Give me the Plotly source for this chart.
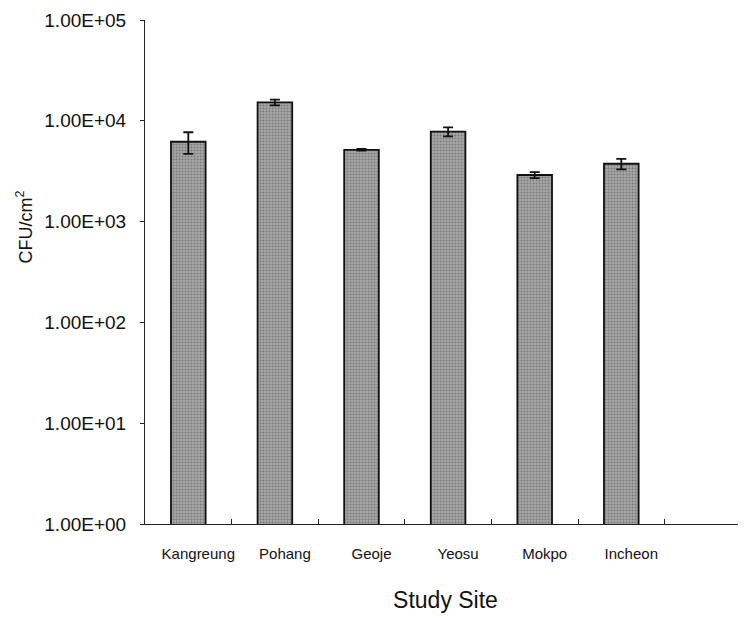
import plotly.graph_objects as go

sites = ["Kangreung", "Pohang", "Geoje", "Yeosu", "Mokpo", "Incheon"]
cfu = [6200, 15200, 5150, 7800, 2900, 3750]
cfu_err = [1500, 1000, 100, 800, 200, 450]
ytick_vals = [1, 10, 100, 1000, 10000, 100000]
ytick_text = ["1.00E+00", "1.00E+01", "1.00E+02", "1.00E+03", "1.00E+04", "1.00E+05"]

FONT = "Liberation Sans Narrow, Arial Narrow, Liberation Sans, Arial, sans-serif"

fig = go.Figure(go.Bar(
    x=sites, y=cfu, width=0.40,
    marker=dict(color="#9c9c9c", line=dict(color="#111111", width=1.8),
                pattern=dict(shape=".", fgcolor="#4a4a4a", bgcolor="#a8a8a8", size=3, solidity=0.35)),
    error_y=dict(type="data", array=cfu_err, visible=True, color="#111111", thickness=1.8, width=5),
))

fig.update_layout(
    width=738, height=610,
    margin=dict(l=137, r=0, t=12, b=94),
    paper_bgcolor="white", plot_bgcolor="white",
    font=dict(family=FONT, color="#111111", size=14),
    showlegend=False,
    annotations=[dict(
        text="CFU/cm<sup>2</sup>", textangle=-90, showarrow=False,
        xref="paper", yref="paper", x=-0.2, y=0.59,
        xanchor="center", yanchor="middle", font=dict(size=18),
    )],
)
fig.update_xaxes(
    range=[-0.5, 6.44],
    showline=True, linecolor="#222222", linewidth=1,
    ticks="inside", tickson="boundaries", ticklen=5, tickcolor="#222222",
    tickfont=dict(size=15), ticklabelshift=10, ticklabelstandoff=16,
    title=dict(text="Study Site", font=dict(size=23), standoff=30),
    showgrid=False,
)
fig.update_yaxes(
    type="log", range=[0, 5],
    tickvals=ytick_vals, ticktext=ytick_text,
    showline=True, linecolor="#222222", linewidth=1,
    ticks="outside", ticklen=4, tickcolor="#222222",
    tickfont=dict(size=19), ticklabelstandoff=10,
    showgrid=False,
)

fig.write_html("out.html")
